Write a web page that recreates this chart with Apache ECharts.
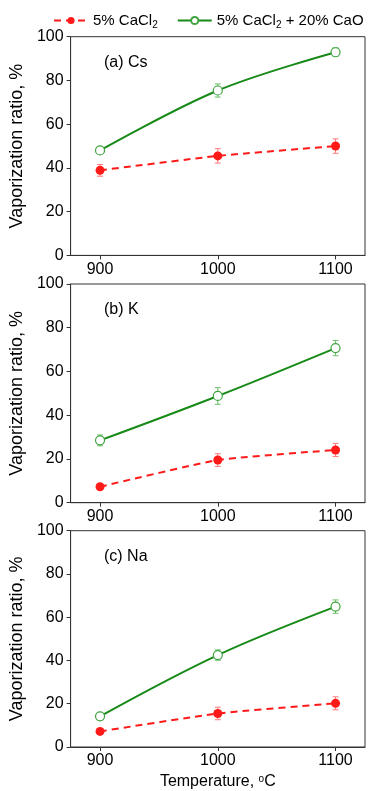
<!DOCTYPE html>
<html>
<head>
<meta charset="utf-8">
<script src="https://cdn.jsdelivr.net/npm/echarts@6/dist/echarts.min.js"></script>
<style>
html,body{margin:0;padding:0;background:#fff;}
#c{width:368px;height:791px;}
</style>
</head>
<body>
<div id="c"></div>
<script>
// ---- data ----
const temps = [900, 1000, 1100];
const xTicks = [900, 1000, 1100];
const yTicks = [0, 20, 40, 60, 80, 100];
const panelLabels = ['(a) Cs', '(b) K', '(c) Na'];
const seriesNames = ['5% CaCl2', '5% CaCl2 + 20% CaO'];

const csCaCl2 = [38.9, 45.5, 50.0];
const csCaCl2Err = [2.7, 3.3, 3.3];
const csCaO = [48.0, 75.4, 92.9];
const csCaOErr = [1.0, 3.0, 2.0];

const kCaCl2 = [7.3, 19.5, 24.1];
const kCaCl2Err = [1.0, 2.9, 3.0];
const kCaO = [28.5, 48.8, 70.7];
const kCaOErr = [2.5, 3.8, 3.5];

const naCaCl2 = [7.2, 15.5, 20.2];
const naCaCl2Err = [1.0, 2.9, 3.0];
const naCaO = [14.2, 42.5, 64.9];
const naCaOErr = [1.5, 2.4, 3.1];

const panels = [
  {a: csCaCl2, ae: csCaCl2Err, b: csCaO, be: csCaOErr},
  {a: kCaCl2, ae: kCaCl2Err, b: kCaO, be: kCaOErr},
  {a: naCaCl2, ae: naCaCl2Err, b: naCaO, be: naCaOErr}
];

// ---- layout ----
const gridTops = [36.7, 284, 530.7];
const gridH = 218.7;
const RED = '#ff1a1a';
const GREEN = '#178a17';
const FONT = 'Liberation Sans, Arial, sans-serif';

const chart = echarts.init(document.getElementById('c'), null, {renderer: 'canvas'});

const grids = [], xAxes = [], yAxes = [], series = [], titles = [];

function errRender(color) {
  return function (params, api) {
    const x = api.value(0), lo = api.value(1), hi = api.value(2);
    const p1 = api.coord([x, hi]);
    const p2 = api.coord([x, lo]);
    const hw = 3;
    const st = {stroke: color, lineWidth: 1};
    return {
      type: 'group',
      children: [
        {type: 'line', shape: {x1: p1[0], y1: p1[1], x2: p2[0], y2: p2[1]}, style: st},
        {type: 'line', shape: {x1: p1[0] - hw, y1: p1[1], x2: p1[0] + hw, y2: p1[1]}, style: st},
        {type: 'line', shape: {x1: p2[0] - hw, y1: p2[1], x2: p2[0] + hw, y2: p2[1]}, style: st}
      ]
    };
  };
}

panels.forEach((p, i) => {
  grids.push({
    left: 67, right: 3, top: gridTops[i], height: gridH,
    show: true, borderColor: '#333', borderWidth: 1, backgroundColor: 'transparent'
  });
  xAxes.push({
    type: 'value', gridIndex: i, min: 875, max: 1125,
    axisLine: {show: true, onZero: false, lineStyle: {color: '#333', width: 1}},
    axisTick: {show: true, inside: false, length: 4, customValues: xTicks, lineStyle: {color: '#333'}},
    axisLabel: {
      show: true, customValues: xTicks, color: '#000', fontSize: 16, fontFamily: FONT, margin: 6,
      formatter: function (v) { return String(v); }
    },
    splitLine: {show: false},
    name: i === 2 ? 'Temperature, {sup|o}C' : '',
    nameLocation: 'middle', nameGap: 27,
    nameTextStyle: {
      color: '#000', fontSize: 16, fontFamily: FONT,
      rich: {sup: {fontSize: 10, fontFamily: FONT, color: '#000', verticalAlign: 'top', lineHeight: 10}}
    }
  });
  yAxes.push({
    type: 'value', gridIndex: i, min: 0, max: 100, interval: 20,
    axisLine: {show: true, lineStyle: {color: '#333', width: 1}},
    axisTick: {show: true, inside: false, length: 4, lineStyle: {color: '#333'}},
    axisLabel: {color: '#000', fontSize: 16, fontFamily: FONT, margin: 7},
    splitLine: {show: false},
    name: 'Vaporization ratio, %', nameLocation: 'middle', nameGap: 42,
    nameTextStyle: {color: '#000', fontSize: 18, fontFamily: FONT}
  });
  titles.push({
    text: panelLabels[i], left: 99, top: gridTops[i] + 13,
    textStyle: {color: '#000', fontSize: 16, fontWeight: 'normal', fontFamily: FONT}
  });
  // error bars
  series.push({
    type: 'custom', name: 'errA' + i, xAxisIndex: i, yAxisIndex: i, z: 1,
    renderItem: errRender('#ff7a7a'),
    data: temps.map((t, k) => [t, p.a[k] - p.ae[k], p.a[k] + p.ae[k]]),
    silent: true
  });
  series.push({
    type: 'custom', name: 'errB' + i, xAxisIndex: i, yAxisIndex: i, z: 1,
    renderItem: errRender('#6cbf6c'),
    data: temps.map((t, k) => [t, p.b[k] - p.be[k], p.b[k] + p.be[k]]),
    silent: true
  });
  series.push({
    type: 'line', name: seriesNames[0], xAxisIndex: i, yAxisIndex: i, z: 3,
    data: temps.map((t, k) => [t, p.a[k]]),
    smooth: 0.15,
    lineStyle: {color: RED, width: 2, type: [7, 5]},
    symbol: 'circle', symbolSize: 9,
    itemStyle: {color: RED, borderColor: RED, borderWidth: 0}
  });
  series.push({
    type: 'line', name: seriesNames[1], xAxisIndex: i, yAxisIndex: i, z: 3,
    data: temps.map((t, k) => [t, p.b[k]]),
    smooth: 0.35,
    lineStyle: {color: GREEN, width: 2},
    symbol: 'circle', symbolSize: 9,
    itemStyle: {color: '#fff', borderColor: '#3fa33f', borderWidth: 1.2}
  });
});

const option = {
  animation: false,
  backgroundColor: '#fff',
  title: titles,
  legend: {
    data: seriesNames,
    orient: 'horizontal',
    left: 48, top: 8, width: 330,
    itemWidth: 34, itemHeight: 9, itemGap: 19,
    formatter: function (n) {
      return n === seriesNames[0] ? '{n|5% CaCl}{s|2}' : '{n|5% CaCl}{s|2}{n| + 20% CaO}';
    },
    textStyle: {
      color: '#000', fontSize: 15, fontFamily: FONT,
      rich: {
        n: {fontSize: 15, fontFamily: FONT, color: '#000', lineHeight: 20},
        s: {fontSize: 10, fontFamily: FONT, color: '#000', lineHeight: 10, verticalAlign: 'bottom'}
      }
    }
  },
  grid: grids,
  xAxis: xAxes,
  yAxis: yAxes,
  series: series
};
chart.setOption(option);
</script>
</body>
</html>
